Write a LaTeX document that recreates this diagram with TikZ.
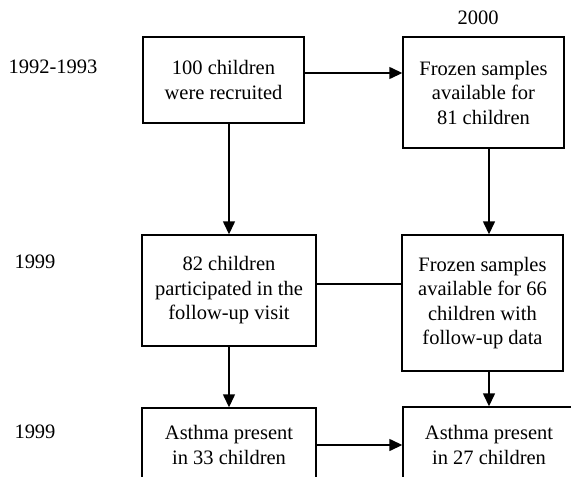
\documentclass[tikz,border=0pt]{standalone}
\usepackage{fontspec}
\setmainfont{Liberation Serif}
\usetikzlibrary{arrows.meta}
\begin{document}
\begin{tikzpicture}[x=1pt,y=-1pt,
  box/.style={draw, line width=1.4pt, rectangle, inner sep=0pt, align=center,
    font=\fontsize{20.5}{24.5}\selectfont},
  lbl/.style={inner sep=0pt, font=\fontsize{20.5}{24.5}\selectfont},
  conn/.style={line width=1.4pt},
  arr/.style={conn, -{Triangle[length=13pt,width=12pt]}}]
\useasboundingbox (0,0) rectangle (571,477);
\clip (0,0) rectangle (571,477);
% boxes
\node[box, minimum width=161pt, minimum height=86pt] (A) at (223.5,80) {100 children\\were recruited};
\node[box, minimum width=161pt, minimum height=111pt] (B) at (483.5,92.5) {Frozen samples\\available for\\81 children};
\node[box, minimum width=174pt, minimum height=111pt] (C) at (229,290.5) {82 children\\participated in the\\follow-up visit};
\node[box, minimum width=161pt, minimum height=136pt] (D) at (482.5,303) {Frozen samples\\available for 66\\children with\\follow-up data};
\node[box, minimum width=174pt, minimum height=74pt] (E) at (229,445) {Asthma present\\in 33 children};
\node[box, minimum width=172pt, minimum height=76pt] (F) at (489,445) {Asthma present\\in 27 children};
% labels
\node[lbl] (y2000) at (478,18) {2000};
\node[lbl] (y9293) at (53,67) {1992-1993};
\node[lbl] (y99a) at (35,262) {1999};
\node[lbl] (y99b) at (35,432) {1999};
% connectors
\draw[arr] ([yshift=7pt]A.east) -- ([yshift=7pt]A.east -| B.west);
\draw[arr] (C.north |- A.south) -- (C.north);
\draw[arr] (F.north |- B.south) -- (F.north |- D.north);
\draw[conn] ([yshift=6.5pt]C.east) -- ([yshift=6.5pt]C.east -| D.west);
\draw[arr] (C.south) -- (E.north);
\draw[arr] (F.north |- D.south) -- (F.north);
\draw[arr] (E.east) -- (E.east -| F.west);
\end{tikzpicture}
\end{document}
